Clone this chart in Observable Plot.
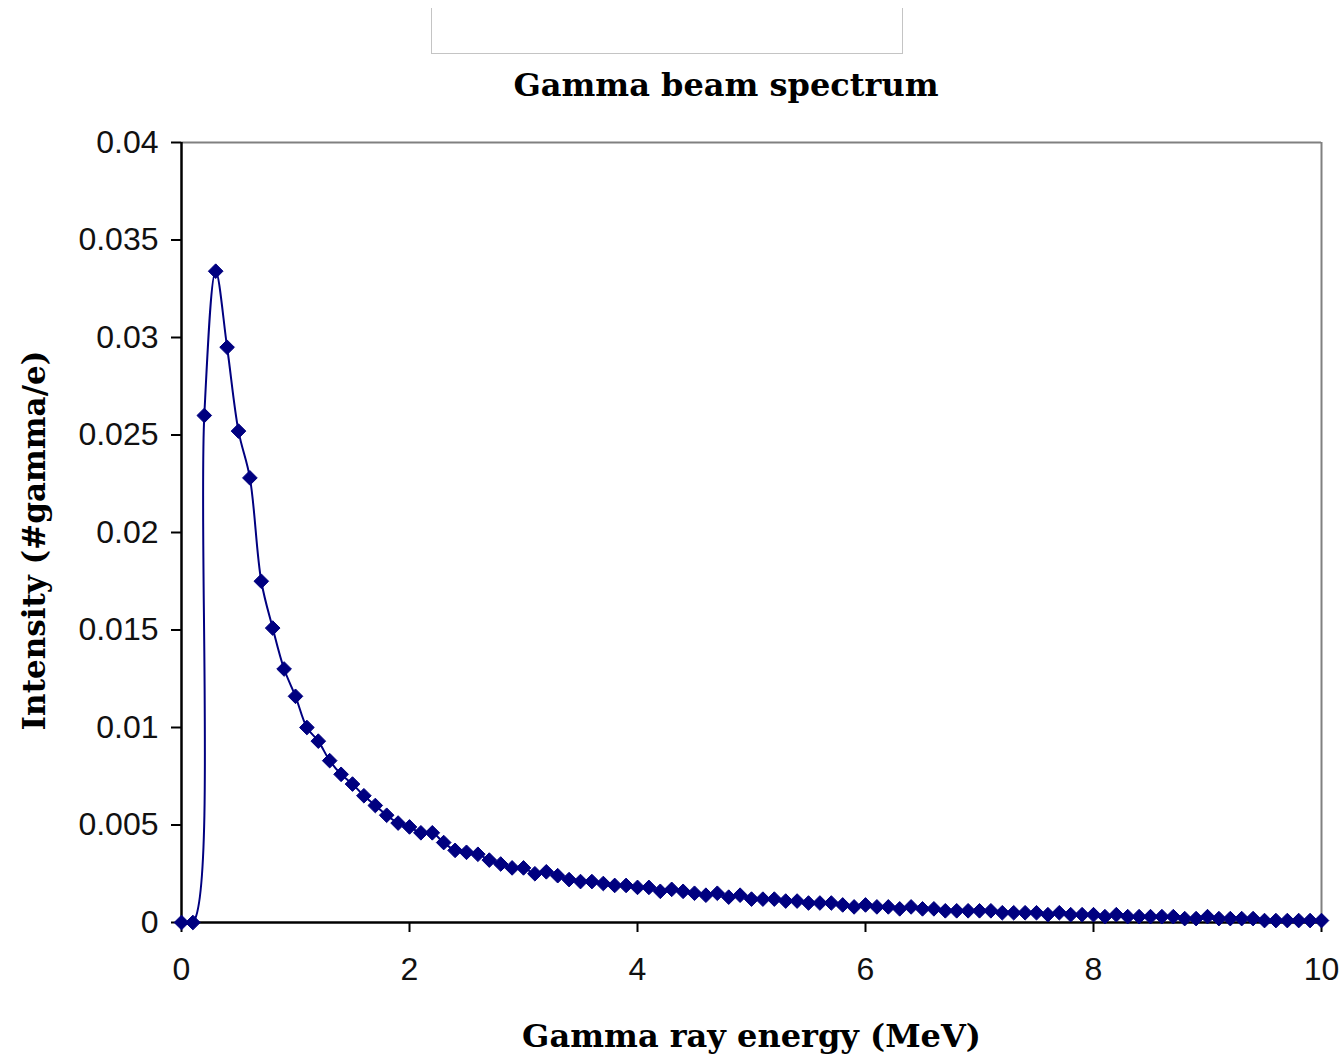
<!DOCTYPE html>
<html>
<head>
<meta charset="utf-8">
<script src="https://cdn.jsdelivr.net/npm/d3@7"></script>
<script src="https://cdn.jsdelivr.net/npm/@observablehq/plot@0.6"></script>
<style>
  html, body { margin: 0; padding: 0; background: #fff; }
  #page { position: relative; width: 1339px; height: 1060px; overflow: hidden; }
  #box { position: absolute; left: 431px; top: 8px; width: 472px; height: 46px;
         border: 1.5px solid #c4c4c4; border-top: none; box-sizing: border-box; }
  #title { position: absolute; left: 426px; width: 600px; top: 67px; text-align: center;
           font-family: "DejaVu Serif", serif; font-weight: bold; font-size: 32px; color: #000;
           line-height: 1.16; white-space: nowrap; }
  #chart { position: absolute; left: 0; top: 110px; }
</style>
</head>
<body>
<div id="page">
  <div id="box"></div>
  <div id="title">Gamma beam spectrum</div>
  <div id="chart"></div>
</div>
<script>
const chartTitle = "Gamma beam spectrum";
const xLabel = "Gamma ray energy (MeV)";
const yLabel = "Intensity (#gamma/e)";

const energy = [
  0.0, 0.1, 0.2, 0.3, 0.4, 0.5, 0.6, 0.7, 0.8, 0.9,
  1.0, 1.1, 1.2, 1.3, 1.4, 1.5, 1.6, 1.7, 1.8, 1.9,
  2.0, 2.1, 2.2, 2.3, 2.4, 2.5, 2.6, 2.7, 2.8, 2.9,
  3.0, 3.1, 3.2, 3.3, 3.4, 3.5, 3.6, 3.7, 3.8, 3.9,
  4.0, 4.1, 4.2, 4.3, 4.4, 4.5, 4.6, 4.7, 4.8, 4.9,
  5.0, 5.1, 5.2, 5.3, 5.4, 5.5, 5.6, 5.7, 5.8, 5.9,
  6.0, 6.1, 6.2, 6.3, 6.4, 6.5, 6.6, 6.7, 6.8, 6.9,
  7.0, 7.1, 7.2, 7.3, 7.4, 7.5, 7.6, 7.7, 7.8, 7.9,
  8.0, 8.1, 8.2, 8.3, 8.4, 8.5, 8.6, 8.7, 8.8, 8.9,
  9.0, 9.1, 9.2, 9.3, 9.4, 9.5, 9.6, 9.7, 9.8, 9.9,
  10.0
];

const intensity = [
  0.0000, 0.0000, 0.0260, 0.0334, 0.0295, 0.0252, 0.0228, 0.0175, 0.0151, 0.0130,
  0.0116, 0.0100, 0.0093, 0.0083, 0.0076, 0.0071, 0.0065, 0.0060, 0.0055, 0.0051,
  0.0049, 0.0046, 0.0046, 0.0041, 0.0037, 0.0036, 0.0035, 0.0032, 0.0030, 0.0028,
  0.0028, 0.0025, 0.0026, 0.0024, 0.0022, 0.0021, 0.0021, 0.0020, 0.0019, 0.0019,
  0.0018, 0.0018, 0.0016, 0.0017, 0.0016, 0.0015, 0.0014, 0.0015, 0.0013, 0.0014,
  0.0012, 0.0012, 0.0012, 0.0011, 0.0011, 0.0010, 0.0010, 0.0010, 0.0009, 0.0008,
  0.0009, 0.0008, 0.0008, 0.0007, 0.0008, 0.0007, 0.0007, 0.0006, 0.0006, 0.0006,
  0.0006, 0.0006, 0.0005, 0.0005, 0.0005, 0.0005, 0.0004, 0.0005, 0.0004, 0.0004,
  0.0004, 0.0003, 0.0004, 0.0003, 0.0003, 0.0003, 0.0003, 0.0003, 0.0002, 0.0002,
  0.0003, 0.0002, 0.0002, 0.0002, 0.0002, 0.0001, 0.0001, 0.0001, 0.0001, 0.0001,
  0.0001
];

const xTicks = [0, 2, 4, 6, 8, 10];
const yTicks = [0, 0.005, 0.01, 0.015, 0.02, 0.025, 0.03, 0.035, 0.04];
const yTickLabels = ["0", "0.005", "0.01", "0.015", "0.02", "0.025", "0.03", "0.035", "0.04"];

const data = energy.map((e, i) => ({energy: e, intensity: intensity[i]}));
const navy = "#000080";
const tickFont = {fontSize: 32, fontFamily: "'Liberation Sans', Arial, sans-serif"};

document.getElementById("title").textContent = chartTitle;

const chart = Plot.plot({
  width: 1339,
  height: 950,
  marginLeft: 181,
  marginRight: 18,
  marginTop: 32,
  marginBottom: 138,
  style: {background: "#fff", color: "#000", overflow: "visible"},
  x: {domain: [0, 10], ticks: xTicks},
  y: {domain: [0, 0.04], ticks: yTicks},
  marks: [
    Plot.ruleY([0.04], {stroke: "#808080", strokeWidth: 2}),
    Plot.ruleX([10], {stroke: "#808080", strokeWidth: 2}),
    Plot.axisX({
      ticks: xTicks, tickFormat: d => String(d), tickSize: 10, tickPadding: 25,
      stroke: "#000", strokeWidth: 2, strokeOpacity: 1, label: null, ...tickFont, fill: "#111"
    }),
    Plot.axisY({
      ticks: yTicks, tickFormat: d => yTickLabels[yTicks.indexOf(d)], tickSize: 10, tickPadding: 13,
      stroke: "#000", strokeWidth: 2, strokeOpacity: 1, label: null, ...tickFont, fill: "#111"
    }),
    Plot.ruleY([0], {stroke: "#000", strokeWidth: 2.5}),
    Plot.ruleX([0], {stroke: "#000", strokeWidth: 2.5}),
    Plot.line(data, {x: "energy", y: "intensity", stroke: navy, strokeWidth: 2, curve: "catmull-rom"}),
    Plot.dot(data, {x: "energy", y: "intensity", symbol: "diamond2", r: 6.6, fill: navy, stroke: navy, strokeWidth: 1}),
    Plot.text([xLabel], {
      frameAnchor: "bottom", dy: 114, lineAnchor: "middle", textAnchor: "middle",
      fontFamily: "'DejaVu Serif', serif", fontWeight: "bold", fontSize: 32, fill: "#000"
    }),
    Plot.text([yLabel], {
      frameAnchor: "left", dx: -146, dy: 8, rotate: -90, lineAnchor: "middle", textAnchor: "middle",
      fontFamily: "'DejaVu Serif', serif", fontWeight: "bold", fontSize: 31, fill: "#000"
    })
  ]
});

document.getElementById("chart").appendChild(chart);
</script>
</body>
</html>
